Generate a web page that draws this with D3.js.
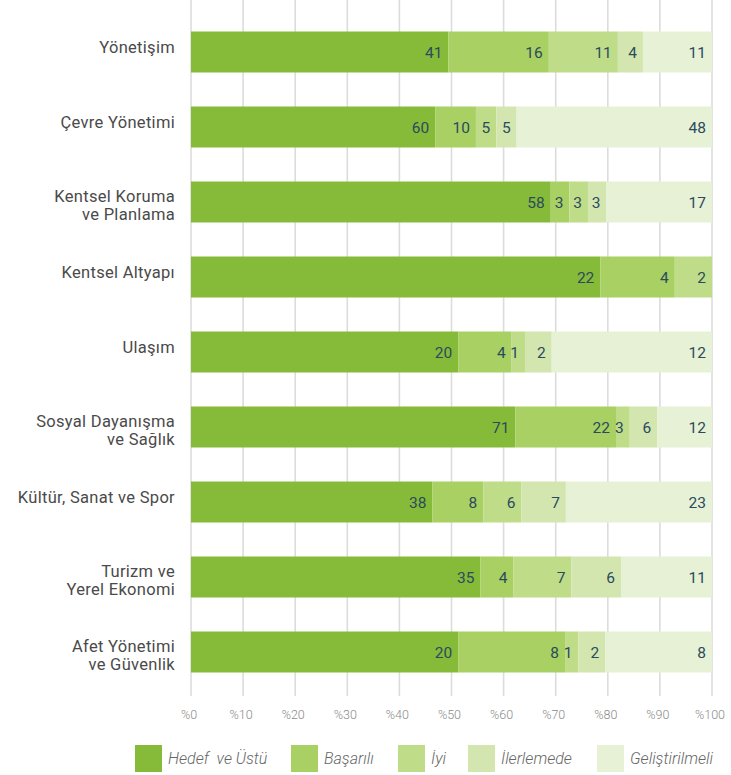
<!DOCTYPE html>
<html>
<head>
<meta charset="utf-8">
<script src="https://cdn.jsdelivr.net/npm/d3@7"></script>
<style>
  html, body { margin: 0; padding: 0; background: #fff; }
  svg { display: block; }
</style>
</head>
<body>
<svg id="chart" width="731" height="775"></svg>
<script>
// ---- Data ----
const categories = [
  "Yönetişim",
  "Çevre Yönetimi",
  "Kentsel Koruma\nve Planlama",
  "Kentsel Altyapı",
  "Ulaşım",
  "Sosyal Dayanışma\nve Sağlık",
  "Kültür, Sanat ve Spor",
  "Turizm ve\nYerel Ekonomi",
  "Afet Yönetimi\nve Güvenlik"
];
const seriesNames = ["Hedef  ve Üstü", "Başarılı", "İyi", "İlerlemede", "Geliştirilmeli"];
const hedef         = [41, 60, 58, 22, 20, 71, 38, 35, 20];
const basarili      = [16, 10, 3, 4, 4, 22, 8, 4, 8];
const iyi           = [11, 5, 3, 2, 1, 3, 6, 7, 1];
const ilerlemede    = [4, 5, 3, 0, 2, 6, 7, 6, 2];
const gelistirilmeli= [11, 48, 17, 0, 12, 12, 23, 11, 8];
const tickValues = [0, 0.1, 0.2, 0.3, 0.4, 0.5, 0.6, 0.7, 0.8, 0.9, 1];
const tickLabels = ["%0", "%10", "%20", "%30", "%40", "%50", "%60", "%70", "%80", "%90", "%100"];

// ---- Styles / layout ----
const colors = ["#86bb3a", "#a8d062", "#bfdc89", "#d4e6b0", "#e6f1d5"];
const legendX = [135, 291, 398, 468, 597];

const svg = d3.select("#chart");
const seriesArrays = [hedef, basarili, iyi, ilerlemede, gelistirilmeli];
const keys = seriesNames.map((d, i) => "s" + i);
const table = categories.map((c, i) => {
  const row = { cat: c };
  keys.forEach((k, j) => row[k] = seriesArrays[j][i]);
  return row;
});

const x = d3.scaleLinear().domain([0, 1]).range([191, 712]);
const y = d3.scaleBand().domain(categories).range([14.5, 689.5])
  .paddingInner(34 / 75).paddingOuter(17 / 75);

const stack = d3.stack().keys(keys).offset(d3.stackOffsetExpand);
const stacked = stack(table);

// gridlines
svg.append("g").selectAll("line").data(tickValues).join("line")
  .attr("x1", d => x(d)).attr("x2", d => x(d))
  .attr("y1", 0).attr("y2", 696)
  .attr("stroke", "#dcdcdc").attr("stroke-width", 1.6);

// tick labels
svg.append("g").selectAll("text").data(tickValues).join("text")
  .attr("x", d => x(d) - 2).attr("y", 718.5)
  .attr("text-anchor", "middle")
  .attr("font-family", "Roboto, sans-serif").attr("font-weight", 300)
  .attr("font-size", 12.5).attr("fill", "#8a8a8a")
  .text((d, i) => tickLabels[i]);

// bars
const layers = svg.append("g").selectAll("g").data(stacked).join("g")
  .attr("fill", (d, i) => colors[i]);
layers.selectAll("rect").data(d => d).join("rect")
  .attr("x", d => x(d[0]))
  .attr("width", d => Math.max(0, x(d[1]) - x(d[0])))
  .attr("y", d => y(d.data.cat))
  .attr("height", y.bandwidth());

// value labels
const labels = svg.append("g");
stacked.forEach((layer, li) => {
  labels.selectAll(null).data(layer.filter(d => d.data[layer.key] > 0)).join("text")
    .attr("x", d => x(d[1]) - 6)
    .attr("y", d => y(d.data.cat) + y.bandwidth() / 2 + 5.5)
    .attr("text-anchor", "end")
    .attr("font-family", "Roboto, sans-serif")
    .attr("font-size", 15.5)
    .attr("fill", "#2b4a5e")
    .text(d => d.data[layer.key]);
});

// category labels
const catG = svg.append("g");
categories.forEach(c => {
  const lines = c.split("\n");
  const cy = y(c) + y.bandwidth() / 2;
  const t = catG.append("text")
    .attr("text-anchor", "end")
    .attr("font-family", "Roboto, sans-serif")
    .attr("font-size", 16.5)
    .attr("letter-spacing", 0.3)
    .attr("fill", "#4a4a4a");
  lines.forEach((ln, i) => {
    t.append("tspan").attr("x", 175).attr("y", cy + (lines.length > 1 ? -0.5 : 1) + i * 18).text(ln);
  });
});

// legend
const leg = svg.append("g");
seriesNames.forEach((n, i) => {
  leg.append("rect").attr("x", legendX[i]).attr("y", 745)
    .attr("width", 27).attr("height", 27).attr("fill", colors[i]);
  leg.append("text").attr("x", legendX[i] + 33).attr("y", 763.5)
    .attr("font-family", "Roboto, sans-serif").attr("font-weight", 300)
    .attr("font-style", "italic").attr("font-size", 16).attr("fill", "#666")
    .style("white-space", "pre")
    .text(n);
});
</script>
</body>
</html>
